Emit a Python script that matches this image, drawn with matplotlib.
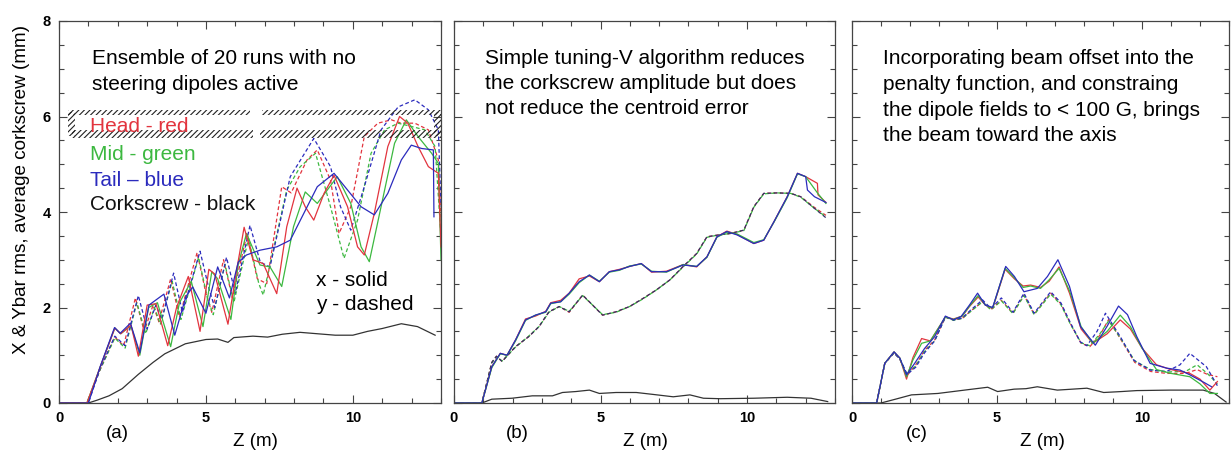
import matplotlib
matplotlib.use("Agg")
import matplotlib.pyplot as plt
from matplotlib.patches import Rectangle

plt.rcParams['font.family'] = ['Liberation Sans', 'DejaVu Sans']
plt.rcParams['hatch.linewidth'] = 0.8

W, H = 1231, 453

# ---------------- data ----------------
# panel (a): no steering
A_RED_X_Z = [0, 0.95, 1.4, 1.9, 2.1, 2.45, 2.7, 3.0, 3.3, 3.7, 4.0, 4.4, 4.8, 5.1, 5.3, 5.75, 6.05, 6.3, 6.6, 6.95, 7.41, 7.75, 8.1, 8.38, 8.67, 9.02, 9.36, 9.82, 10.16, 10.39, 10.73, 11.19, 11.59, 11.87, 12.22, 12.57, 12.91, 13.0]
A_RED_X_Y = [0, 0, 0.75, 1.57, 1.45, 1.63, 0.98, 2.05, 2.08, 1.2, 2.0, 2.65, 1.5, 2.8, 2.7, 1.65, 2.8, 3.68, 3.0, 2.92, 2.29, 3.69, 4.5, 4.11, 3.83, 4.39, 4.77, 4.11, 3.27, 3.1, 3.97, 5.37, 6.0, 5.86, 5.37, 4.95, 4.81, 3.27]
A_GRN_X_Z = [0, 0.95, 1.4, 1.9, 2.1, 2.45, 2.75, 3.05, 3.35, 3.8, 4.1, 4.5, 4.9, 5.2, 5.4, 5.85, 6.1, 6.38, 6.84, 7.18, 7.58, 7.98, 8.38, 8.79, 9.13, 9.47, 9.93, 10.28, 10.56, 10.96, 11.42, 11.82, 12.22, 12.68, 12.91, 13.0]
A_GRN_X_Y = [0, 0, 0.75, 1.57, 1.45, 1.62, 1.0, 2.0, 2.1, 1.18, 2.1, 2.55, 1.6, 2.75, 2.6, 1.75, 2.9, 3.55, 2.89, 2.85, 2.44, 3.69, 4.42, 4.18, 4.46, 4.74, 4.18, 3.27, 2.96, 4.11, 5.44, 5.93, 5.58, 5.23, 5.02, 3.0]
A_BLU_X_Z = [0, 1.0, 1.4, 1.89, 2.08, 2.43, 2.75, 3.06, 3.57, 3.94, 4.32, 4.55, 5.0, 5.4, 5.8, 6.1, 6.38, 6.84, 7.41, 7.87, 8.33, 8.79, 9.36, 9.82, 10.28, 10.73, 11.19, 11.65, 11.99, 12.34, 12.74, 12.76]
A_BLU_X_Y = [0, 0, 0.76, 1.58, 1.46, 1.67, 1.05, 2.05, 2.28, 1.42, 2.23, 2.43, 1.88, 2.85, 2.2, 2.95, 3.1, 3.2, 3.27, 3.41, 3.97, 4.53, 4.81, 4.46, 4.11, 3.94, 4.39, 5.09, 5.4, 5.33, 5.3, 3.9]
A_RED_Y_Z = [0, 0.95, 1.4, 1.9, 2.2, 2.6, 2.9, 3.2, 3.4, 3.8, 4.1, 4.7, 5.0, 5.2, 5.6, 5.9, 6.4, 6.75, 7.07, 7.58, 7.9, 8.44, 8.79, 9.24, 9.53, 9.93, 10.39, 10.85, 11.31, 11.65, 12.11, 12.57, 12.91, 13.0]
A_RED_Y_Y = [0, 0, 0.7, 1.38, 1.2, 2.2, 1.5, 2.05, 1.7, 2.6, 1.8, 3.15, 2.3, 1.9, 3.0, 2.2, 3.55, 2.6, 2.5, 4.53, 4.4, 5.09, 5.3, 4.67, 3.55, 4.11, 5.58, 5.86, 5.93, 5.86, 5.86, 5.72, 5.09, 3.83]
A_GRN_Y_Z = [0, 0.95, 1.4, 1.9, 2.25, 2.65, 2.95, 3.25, 3.45, 3.85, 4.15, 4.75, 5.05, 5.25, 5.65, 5.95, 6.45, 6.8, 6.95, 7.75, 8.21, 8.73, 9.24, 9.7, 10.16, 10.62, 11.08, 11.54, 12.0, 12.45, 12.8, 13.0]
A_GRN_Y_Y = [0, 0, 0.7, 1.36, 1.15, 2.1, 1.45, 2.0, 1.65, 2.55, 1.75, 3.05, 2.2, 1.85, 2.9, 2.1, 3.45, 2.5, 2.26, 4.46, 4.95, 5.23, 4.11, 3.03, 3.83, 5.23, 5.72, 5.86, 5.79, 5.72, 5.37, 3.48]
A_BLU_Y_Z = [0, 1.0, 1.4, 1.9, 2.25, 2.7, 3.0, 3.3, 3.5, 3.9, 4.2, 4.8, 5.1, 5.3, 5.7, 6.0, 6.5, 6.85, 7.18, 7.87, 8.67, 9.24, 9.58, 9.93, 10.39, 10.96, 11.54, 12.11, 12.57, 12.91, 13.0]
A_BLU_Y_Y = [0, 0, 0.72, 1.4, 1.2, 2.25, 1.55, 2.05, 1.75, 2.72, 1.9, 3.18, 2.4, 2.0, 3.05, 2.3, 3.72, 2.95, 2.85, 4.74, 5.54, 4.95, 4.11, 3.62, 4.53, 5.72, 6.2, 6.35, 6.14, 5.72, 4.11]
A_BLK_Z = [0, 1.0, 1.3, 1.7, 2.15, 2.7, 3.2, 3.6, 4.3, 5.0, 5.4, 5.75, 5.95, 6.6, 7.1, 7.6, 8.2, 8.8, 9.4, 10.0, 10.5, 11.0, 11.65, 12.2, 12.8]
A_BLK_Y = [0, 0, 0.06, 0.15, 0.3, 0.6, 0.85, 1.03, 1.24, 1.33, 1.34, 1.27, 1.37, 1.40, 1.38, 1.44, 1.48, 1.45, 1.42, 1.42, 1.5, 1.56, 1.66, 1.6, 1.42]

# panel (b): simple tuning-V
B_X_Z = [0, 0.95, 1.29, 1.58, 1.81, 2.1, 2.44, 2.78, 3.13, 3.3, 3.64, 3.93, 4.27, 4.62, 4.96, 5.3, 5.65, 5.99, 6.39, 6.74, 7.25, 7.82, 8.28, 8.63, 8.97, 9.31, 9.66, 10.23, 10.57, 10.92, 11.37, 11.72, 12.0]
B_RED_X_Y = [0, 0, 0.76, 1.04, 1.0, 1.32, 1.76, 1.82, 1.92, 2.1, 2.15, 2.3, 2.6, 2.66, 2.54, 2.75, 2.8, 2.86, 2.92, 2.74, 2.76, 2.9, 2.85, 3.06, 3.48, 3.6, 3.53, 3.34, 3.41, 3.8, 4.32, 4.81, 4.74]
B_GRN_X_Y = [0, 0, 0.74, 1.03, 1.0, 1.3, 1.73, 1.84, 1.9, 2.08, 2.12, 2.28, 2.52, 2.68, 2.55, 2.74, 2.78, 2.87, 2.91, 2.76, 2.74, 2.9, 2.86, 3.05, 3.47, 3.58, 3.54, 3.36, 3.42, 3.79, 4.3, 4.8, 4.74]
B_BLU_X_Y = [0, 0, 0.76, 1.04, 1.0, 1.32, 1.74, 1.84, 1.91, 2.09, 2.12, 2.3, 2.54, 2.68, 2.54, 2.75, 2.79, 2.86, 2.92, 2.75, 2.75, 2.89, 2.86, 3.06, 3.48, 3.59, 3.52, 3.34, 3.41, 3.8, 4.32, 4.81, 4.74]
B_RED_X_END_Z = [12.0, 12.4, 12.42, 12.69]
B_RED_X_END_Y = [4.74, 4.6, 4.36, 4.2]
B_GRN_X_END_Z = [12.0, 12.4, 12.69]
B_GRN_X_END_Y = [4.74, 4.4, 4.18]
B_BLU_X_END_Z = [12.0, 12.06, 12.3, 12.69]
B_BLU_X_END_Y = [4.74, 4.46, 4.32, 4.2]
B_Y_Z = [0, 0.95, 1.29, 1.45, 1.64, 2.1, 2.55, 2.9, 3.24, 3.59, 3.93, 4.39, 4.73, 5.07, 5.53, 5.99, 6.45, 6.91, 7.37, 7.82, 8.28, 8.63, 9.03, 9.43, 9.89, 10.23, 10.57, 11.03, 11.49, 11.83, 12.29, 12.69]
B_RED_Y_Y = [0, 0, 0.85, 0.98, 0.87, 1.18, 1.39, 1.6, 1.91, 2.02, 1.9, 2.26, 2.05, 1.84, 1.91, 2.02, 2.19, 2.37, 2.58, 2.86, 3.13, 3.48, 3.52, 3.55, 3.62, 4.11, 4.39, 4.4, 4.39, 4.32, 4.1, 3.93]
B_GRN_Y_Y = [0, 0, 0.84, 0.97, 0.88, 1.17, 1.4, 1.6, 1.9, 2.02, 1.92, 2.25, 2.05, 1.85, 1.9, 2.02, 2.18, 2.37, 2.58, 2.85, 3.12, 3.47, 3.52, 3.55, 3.61, 4.1, 4.38, 4.4, 4.39, 4.31, 4.08, 3.9]
B_BLU_Y_Y = [0, 0, 0.85, 0.98, 0.87, 1.18, 1.39, 1.6, 1.91, 2.02, 1.91, 2.26, 2.05, 1.84, 1.91, 2.02, 2.19, 2.37, 2.58, 2.86, 3.13, 3.48, 3.52, 3.55, 3.62, 4.11, 4.39, 4.4, 4.39, 4.32, 4.08, 3.88]
B_BLK_Z = [0, 0.95, 1.29, 1.98, 2.67, 3.36, 3.7, 4.16, 4.62, 4.96, 5.53, 6.22, 6.79, 7.48, 8.05, 8.51, 9.08, 10.23, 11.37, 12.18, 12.75]
B_BLK_Y = [0, 0, 0.08, 0.1, 0.15, 0.15, 0.22, 0.24, 0.27, 0.2, 0.22, 0.22, 0.18, 0.13, 0.17, 0.1, 0.09, 0.1, 0.12, 0.1, 0.03]

# panel (c): penalty function with beam offset
C_BLU_X_Z = [0, 0.85, 1.13, 1.45, 1.65, 1.88, 2.16, 2.5, 2.85, 3.22, 3.5, 3.76, 4.05, 4.33, 4.6, 4.85, 5.3, 5.6, 5.93, 6.39, 6.74, 7.1, 7.5, 7.88, 8.39, 8.79, 9.19, 9.5, 9.82, 10.28, 10.85, 11.31, 11.65, 12.17, 12.4]
C_BLU_X_Y = [0, 0, 0.83, 1.07, 0.94, 0.59, 0.83, 1.14, 1.39, 1.82, 1.74, 1.81, 2.05, 2.3, 2.05, 2.0, 2.86, 2.65, 2.33, 2.4, 2.65, 3.0, 2.44, 1.6, 1.21, 1.6, 2.03, 1.85, 1.39, 0.83, 0.73, 0.69, 0.59, 0.42, 0.34]
C_RG_X_Z = [0, 0.85, 1.13, 1.45, 1.65, 1.88, 2.1, 2.4, 2.7, 3.22, 3.5, 3.8, 4.05, 4.35, 4.6, 4.85, 5.28, 5.6, 5.9, 6.16, 6.5, 6.8, 7.14, 7.5, 7.9, 8.3, 8.8, 9.25, 9.6, 10.0, 10.5, 11.0, 11.65, 12.0, 12.34, 12.6]
C_RED_X_Y = [0, 0, 0.83, 1.07, 0.94, 0.5, 0.95, 1.35, 1.3, 1.8, 1.76, 1.82, 2.02, 2.22, 2.05, 1.98, 2.8, 2.6, 2.45, 2.47, 2.42, 2.55, 2.85, 2.3, 1.55, 1.25, 1.45, 1.74, 1.55, 1.15, 0.8, 0.7, 0.62, 0.5, 0.27, 0.45]
C_GRN_X_Y = [0, 0, 0.83, 1.07, 0.94, 0.55, 0.9, 1.25, 1.3, 1.8, 1.75, 1.82, 2.03, 2.25, 2.05, 1.99, 2.82, 2.62, 2.42, 2.45, 2.4, 2.58, 2.82, 2.35, 1.6, 1.25, 1.5, 1.84, 1.6, 1.15, 0.7, 0.62, 0.55, 0.4, 0.2, 0.2]
C_BLU_Y_Z = [0, 0.85, 1.13, 1.45, 1.65, 1.9, 2.2, 2.5, 2.85, 3.22, 3.5, 3.8, 4.1, 4.5, 4.79, 5.15, 5.55, 5.93, 6.28, 6.85, 7.2, 7.54, 7.87, 8.1, 8.45, 8.74, 9.25, 9.71, 10.28, 10.85, 11.31, 11.65, 12.22, 12.62]
C_BLU_Y_Y = [0, 0, 0.83, 1.05, 0.92, 0.6, 0.75, 1.05, 1.3, 1.8, 1.74, 1.78, 1.95, 2.16, 1.98, 2.2, 1.9, 2.3, 1.88, 2.33, 2.1, 1.67, 1.28, 1.2, 1.5, 1.88, 1.39, 0.9, 0.69, 0.66, 0.8, 1.04, 0.76, 0.34]
C_RG_Y_Z = [0, 0.85, 1.13, 1.45, 1.65, 1.9, 2.2, 2.5, 2.85, 3.22, 3.5, 3.8, 4.1, 4.5, 4.79, 5.15, 5.55, 5.93, 6.28, 6.85, 7.2, 7.54, 7.9, 8.2, 8.55, 8.85, 9.3, 9.75, 10.3, 10.85, 11.5, 11.9, 12.25, 12.6]
C_RED_Y_Y = [0, 0, 0.83, 1.05, 0.92, 0.58, 0.8, 1.1, 1.32, 1.8, 1.74, 1.77, 1.93, 2.12, 1.96, 2.15, 1.88, 2.26, 1.86, 2.3, 2.08, 1.65, 1.25, 1.18, 1.42, 1.75, 1.3, 0.85, 0.66, 0.62, 0.62, 0.7, 0.6, 0.55]
C_GRN_Y_Y = [0, 0, 0.83, 1.05, 0.92, 0.6, 0.78, 1.08, 1.3, 1.8, 1.73, 1.77, 1.92, 2.12, 1.95, 2.14, 1.87, 2.25, 1.85, 2.28, 2.06, 1.64, 1.26, 1.2, 1.45, 1.72, 1.32, 0.88, 0.7, 0.65, 0.66, 0.8, 0.62, 0.4]
C_BLK_Z = [0, 1.0, 1.5, 2.05, 2.96, 3.88, 4.68, 5.02, 5.59, 6.0, 6.39, 7.08, 7.6, 8.1, 8.68, 9.3, 9.82, 10.97, 12.11, 12.5, 12.9]
C_BLK_Y = [0, 0, 0.08, 0.17, 0.2, 0.27, 0.33, 0.24, 0.29, 0.3, 0.34, 0.27, 0.29, 0.31, 0.22, 0.24, 0.26, 0.27, 0.27, 0.2, 0.02]

X_TICKS = [0, 5, 10]
Y_TICKS = [0, 2, 4, 6, 8]

RED = '#e2343e'
GRN = '#3cb840'
BLU = '#2b2bbd'
BLK = '#333333'
DASH = (0, (3.0, 2.0))
LW = 0.9
TXT = 15

fig = plt.figure(figsize=(W / 100, H / 100), dpi=100)


def px_axes(left, right, top=21, bottom=403):
    return fig.add_axes([left / W, 1 - bottom / H, (right - left) / W, (bottom - top) / H])


def style(ax, xmax, ylabels):
    ax.set_xlim(0, xmax)
    ax.set_ylim(0, 8)
    ax.set_xticks(X_TICKS)
    ax.set_xticks(range(0, 14), minor=True)
    ax.set_yticks(Y_TICKS)
    ax.set_yticks([v * 0.5 for v in range(17)], minor=True)
    ax.tick_params(which='both', direction='in', top=True, right=True, colors='#444444',
                   labelcolor='black', width=0.8)
    ax.tick_params(which='major', length=6, labelsize=10.5, pad=6)
    ax.tick_params(which='minor', length=3.5)
    for lab in ax.get_xticklabels() + ax.get_yticklabels():
        lab.set_fontweight('bold')
    if not ylabels:
        ax.set_yticklabels([])
    for s in ax.spines.values():
        s.set_color('#444444')
        s.set_linewidth(0.9)


def draw(ax, z, y, color, dashed=False):
    ax.plot(z, y, color=color, lw=LW, ls=DASH if dashed else '-', solid_joinstyle='round')


axa = px_axes(59, 441)
axb = px_axes(454, 835)
axc = px_axes(852, 1229)
style(axa, 13.0, True)
style(axb, 13.0, False)
style(axc, 12.87, False)

# panel a
draw(axa, A_BLK_Z, A_BLK_Y, BLK)
draw(axa, A_RED_Y_Z, A_RED_Y_Y, RED, True)
draw(axa, A_GRN_Y_Z, A_GRN_Y_Y, GRN, True)
draw(axa, A_BLU_Y_Z, A_BLU_Y_Y, BLU, True)
draw(axa, A_GRN_X_Z, A_GRN_X_Y, GRN)
draw(axa, A_RED_X_Z, A_RED_X_Y, RED)
draw(axa, A_BLU_X_Z, A_BLU_X_Y, BLU)

# panel b
draw(axb, B_BLK_Z, B_BLK_Y, BLK)
draw(axb, B_Y_Z, B_RED_Y_Y, RED, True)
draw(axb, B_Y_Z, B_GRN_Y_Y, GRN, True)
draw(axb, B_Y_Z, B_BLU_Y_Y, '#333366', True)
draw(axb, B_X_Z + B_RED_X_END_Z[1:], B_RED_X_Y + B_RED_X_END_Y[1:], RED)
draw(axb, B_X_Z + B_GRN_X_END_Z[1:], B_GRN_X_Y + B_GRN_X_END_Y[1:], GRN)
draw(axb, B_X_Z + B_BLU_X_END_Z[1:], B_BLU_X_Y + B_BLU_X_END_Y[1:], BLU)

# panel c
draw(axc, C_BLK_Z, C_BLK_Y, BLK)
draw(axc, C_RG_Y_Z, C_RED_Y_Y, RED, True)
draw(axc, C_RG_Y_Z, C_GRN_Y_Y, GRN, True)
draw(axc, C_BLU_Y_Z, C_BLU_Y_Y, BLU, True)
draw(axc, C_RG_X_Z, C_RED_X_Y, RED)
draw(axc, C_RG_X_Z, C_GRN_X_Y, GRN)
draw(axc, C_BLU_X_Z, C_BLU_X_Y, BLU)

# hatched artefact in panel a
for (x0, x1, y0, y1) in [(0.3, 6.5, 6.04, 6.13), (6.9, 13.0, 6.04, 6.13),
                         (0.45, 6.6, 5.55, 5.72), (6.85, 13.0, 5.55, 5.72),
                         (0.3, 0.55, 5.6, 6.1), (12.75, 13.0, 5.6, 6.1)]:
    axa.add_patch(Rectangle((x0, y0), x1 - x0, y1 - y0, fill=False, lw=0,
                            hatch='//////', edgecolor='#222222', zorder=5))


def ftext(x, y, s, **kw):
    kw.setdefault('fontsize', TXT)
    kw.setdefault('va', 'center')
    fig.text(x / W, 1 - y / H, s, **kw)


ftext(22, 190, 'X & Ybar rms, average corkscrew (mm)', rotation=90, ha='center', fontsize=13.6)

for cx, lab, zx in [(117, '(a)', 255), (517, '(b)', 645), (917, '(c)', 1042)]:
    ftext(cx, 433, lab, ha='center', fontsize=13.5)
    ftext(zx, 442, 'Z (m)', ha='center', fontsize=13.5)

ftext(92, 58, 'Ensemble of 20 runs with no')
ftext(92, 84, 'steering dipoles active')
ftext(90, 127, 'Head - red', color=RED)
ftext(90, 155, 'Mid - green', color=GRN)
ftext(90, 180, 'Tail \u2013 blue', color=BLU)
ftext(90, 205, 'Corkscrew - black', color='#111111')
ftext(316, 280, 'x - solid')
ftext(316, 305, 'y - dashed')

for i, line in enumerate(['Simple tuning-V algorithm reduces',
                          'the corkscrew amplitude but does',
                          'not reduce the centroid error']):
    ftext(485, 58 + i * 25.5, line)

for i, line in enumerate(['Incorporating beam offset into the',
                          'penalty function, and constraing',
                          'the dipole fields to < 100 G, brings',
                          'the beam toward the axis']):
    ftext(883, 59 + i * 25.5, line)

fig.savefig('out.png', dpi=100)
